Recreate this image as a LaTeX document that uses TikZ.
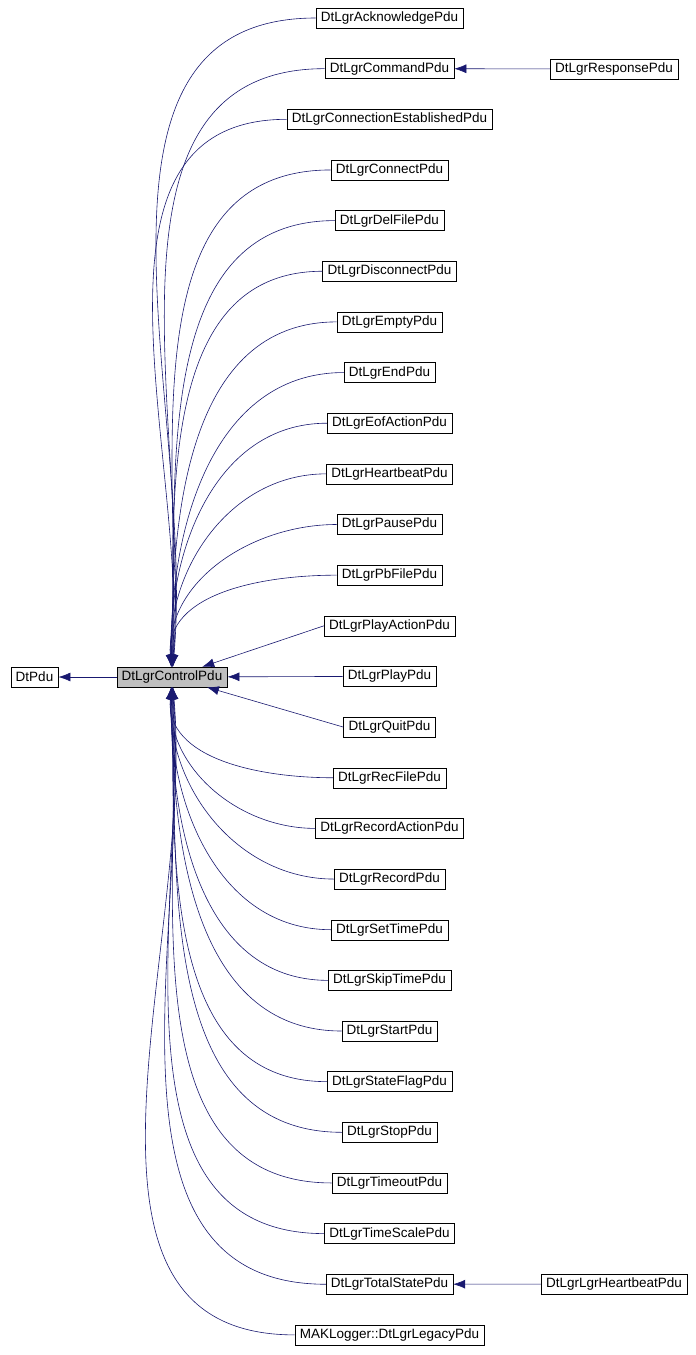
\documentclass[tikz,border=0pt]{standalone}
\usepackage{fontspec}
\setmainfont{Liberation Sans}
\usetikzlibrary{arrows.meta}
\tikzset{
  cls/.style={draw, font=\fontsize{13.5}{15}\selectfont, minimum height=20pt, inner xsep=5pt, inner ysep=0pt, anchor=center},
  inh/.style={draw=navy, semithick, -{Latex[length=12pt,width=9pt]}}
}
\definecolor{navy}{RGB}{25,25,112}
\begin{document}
\begin{tikzpicture}[x=1pt, y=-1pt]
\useasboundingbox (0,0) rectangle (696,1355);

% base classes
\node[cls] (pdu) at (34.5,677) {DtPdu};
\node[cls, fill=black!25] (ctrl) at (172,677) {DtLgrControlPdu};
\draw[inh] (ctrl) -- (pdu);

% derived classes
\foreach \name [count=\i] in {DtLgrAcknowledgePdu, DtLgrCommandPdu,
  DtLgrConnectionEstablishedPdu, DtLgrConnectPdu, DtLgrDelFilePdu,
  DtLgrDisconnectPdu, DtLgrEmptyPdu, DtLgrEndPdu, DtLgrEofActionPdu,
  DtLgrHeartbeatPdu, DtLgrPausePdu, DtLgrPbFilePdu, DtLgrPlayActionPdu,
  DtLgrPlayPdu, DtLgrQuitPdu, DtLgrRecFilePdu, DtLgrRecordActionPdu,
  DtLgrRecordPdu, DtLgrSetTimePdu, DtLgrSkipTimePdu, DtLgrStartPdu,
  DtLgrStateFlagPdu, DtLgrStopPdu, DtLgrTimeoutPdu, DtLgrTimeScalePdu,
  DtLgrTotalStatePdu, MAKLogger::DtLgrLegacyPdu}
{
  \pgfmathsetmacro{\yy}{18+(\i-1)*50.65}
  \node[cls] (c\i) at (389.5,\yy) {\name};
}

% connectors
\foreach \i in {1,...,12}{
  \pgfmathsetmacro{\ang}{84+\i*0.9}
  \draw[inh] (c\i.west) to[out=180, in=\ang] (ctrl);
}
\foreach \i in {13,14,15}
  \draw[inh] (c\i.west) -- (ctrl);
\foreach \i in {16,...,27}{
  \pgfmathsetmacro{\ang}{-84-(28-\i)*0.9}
  \draw[inh] (c\i.west) to[out=180, in=\ang] (ctrl);
}

% second level
\node[cls] (resp) at (614,69) {DtLgrResponsePdu};
\node[cls] (hb) at (614,1284) {DtLgrLgrHeartbeatPdu};
\draw[inh] (resp) -- (c2);
\draw[inh] (hb) -- (c26);
\end{tikzpicture}
\end{document}
